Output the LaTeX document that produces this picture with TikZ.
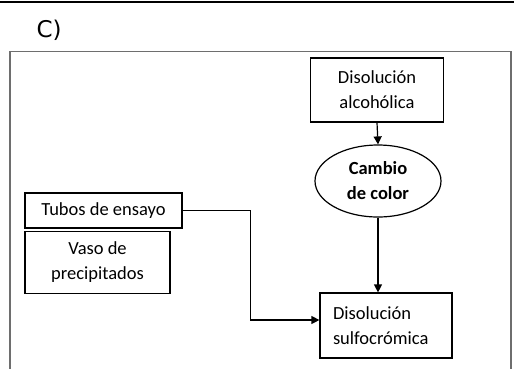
\documentclass[tikz,border=0pt]{standalone}
\usepackage{fontspec}
\setmainfont{Carlito}
\newfontfamily\panelfont{DejaVu Sans}
\usetikzlibrary{arrows.meta,positioning,shapes.geometric}
\definecolor{framegray}{RGB}{110,110,110}
\tikzset{
    box/.style={rectangle, draw=black, line width=1.2pt, align=center,
                inner sep=0pt, font=\fontsize{18.5}{25}\selectfont},
    blob/.style={ellipse, draw=black, line width=1.2pt, align=center,
                 inner sep=0pt, minimum width=126pt, minimum height=72pt,
                 font=\fontsize{18.5}{25}\selectfont\bfseries},
    arr/.style={-{Triangle[length=8pt,width=8pt]}, line width=1.2pt},
}
\begin{document}
\begin{tikzpicture}[x=1pt, y=-1pt]
    \useasboundingbox (0,0) rectangle (514,368);
    % Panel rules
    \draw[line width=2pt] (0,1.5) -- (514,1.5);
    \node[font=\panelfont\fontsize{23}{27}\selectfont, anchor=base west] (panel) at (33,37) {C)};
    \draw[framegray, line width=1.4pt] (10,375) -- (10,51.5) -- (511,51.5) -- (511,375);

    % Blocks
    \node[box, minimum width=133pt, minimum height=64pt]            (alc)   at (377,90)    {Disolución\\alcohólica};
    \node[blob]                                                    (color) at (378,181)   {Cambio\\de color};
    \node[box, minimum width=132pt, minimum height=65pt,
          text width=106pt, align=left]                            (sulfo) at (386,325.5) {Disolución\\sulfocrómica};
    \node[box, minimum width=157pt, minimum height=35pt]           (tubos) at (103.5,210.5) {Tubos de ensayo};
    \node[box, minimum width=145pt, minimum height=62pt,
          below=2pt of tubos.south west, anchor=north west]         (vaso)  {Vaso de\\precipitados};
    \coordinate (entry) at ([yshift=5.5pt]sulfo.west);

    % Connectors
    \draw[arr] (alc.south) -- (color.north);
    \draw[arr] (color.south) -- (color.south |- sulfo.north);
    \draw[arr] (tubos.east) -- ++(68,0) |- (entry);
\end{tikzpicture}
\end{document}
